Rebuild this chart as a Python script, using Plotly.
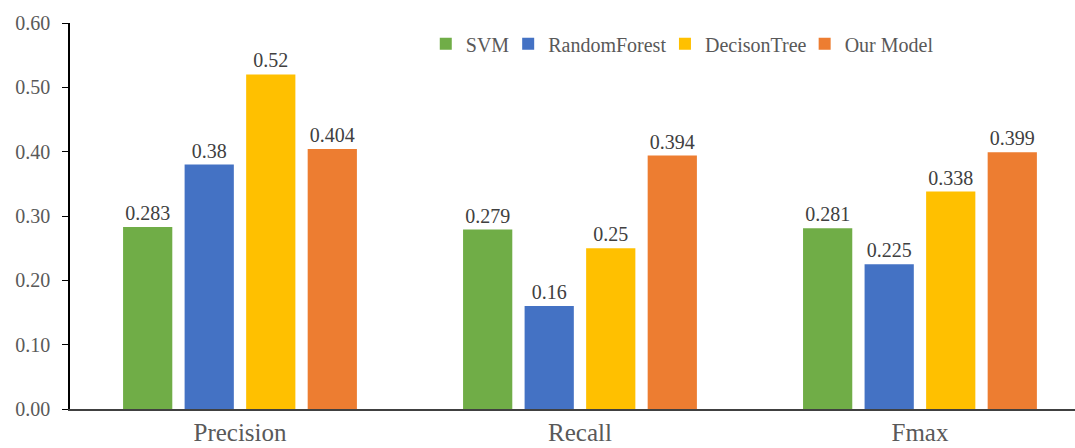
import plotly.graph_objects as go

metrics = ["Precision", "Recall", "Fmax"]
models = ["SVM", "RandomForest", "DecisonTree", "Our Model"]
svm = [0.283, 0.279, 0.281]
random_forest = [0.38, 0.16, 0.225]
decision_tree = [0.52, 0.25, 0.338]
our_model = [0.404, 0.394, 0.399]
y_ticks = [0.0, 0.1, 0.2, 0.3, 0.4, 0.5, 0.6]

series = [svm, random_forest, decision_tree, our_model]
colors = ["#70AD47", "#4472C4", "#FFC000", "#ED7D31"]
legend_ids = ["legend", "legend2", "legend3", "legend4"]
legend_x = [0.354, 0.436, 0.592, 0.731]

font_family = "'Liberation Serif', 'Times New Roman', serif"
text_color = "#595959"

fig = go.Figure()
for name, vals, color, lid in zip(models, series, colors, legend_ids):
    fig.add_trace(go.Bar(
        name=name,
        x=metrics,
        y=vals,
        legend=lid,
        marker=dict(color=color, line=dict(width=0)),
        text=[f"{v:g}" for v in vals],
        textposition="outside",
        cliponaxis=False,
        textfont=dict(family=font_family, size=20, color="#404040"),
    ))

legend_style = dict(
    orientation="h",
    y=0.946,
    xanchor="left",
    yanchor="middle",
    font=dict(family=font_family, size=20, color=text_color),
    bgcolor="rgba(0,0,0,0)",
    itemwidth=30,
)

fig.update_layout(
    width=1075,
    height=448,
    margin=dict(l=70, r=0, t=23, b=39),
    paper_bgcolor="white",
    plot_bgcolor="white",
    barmode="group",
    bargap=0.276,
    bargroupgap=0.2,
    font=dict(family=font_family, color=text_color),
    showlegend=True,
    xaxis=dict(
        range=[-0.5, 2.456],
        automargin=False,
        showline=True,
        linecolor="#404040",
        linewidth=1.5,
        ticks="",
        ticklabelstandoff=0,
        tickfont=dict(family=font_family, size=25, color=text_color),
        showgrid=False,
        zeroline=False,
    ),
    yaxis=dict(
        range=[0, 0.6],
        automargin=False,
        tickvals=y_ticks,
        tickformat=".2f",
        showline=True,
        linecolor="black",
        linewidth=1.5,
        ticks="outside",
        ticklen=6,
        tickcolor="black",
        ticklabelstandoff=8,
        tickfont=dict(family=font_family, size=20, color=text_color),
        showgrid=False,
        zeroline=False,
    ),
)

for lid, lx in zip(legend_ids, legend_x):
    fig.update_layout({lid: dict(legend_style, x=lx)})

fig.write_html("out.html")
